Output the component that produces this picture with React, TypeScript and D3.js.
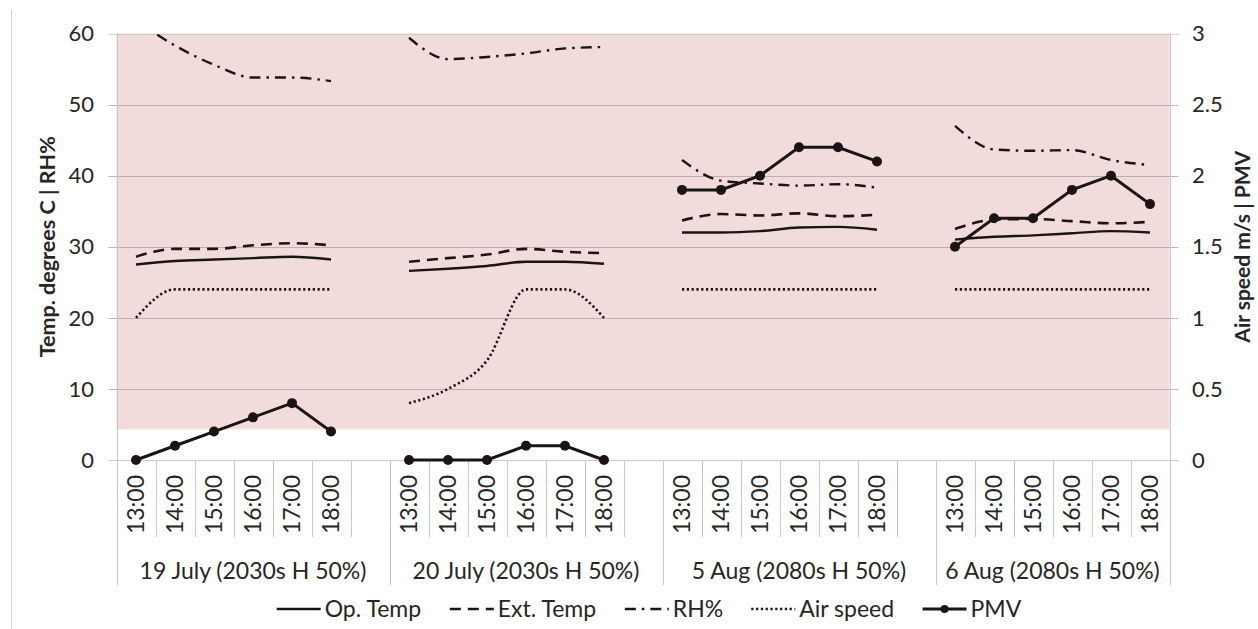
import React, { useEffect, useRef } from "react"
import * as d3 from "d3"

// categories
const groups = ["19 July (2030s H 50%)", "20 July (2030s H 50%)", "5 Aug (2080s H 50%)", "6 Aug (2080s H 50%)"]
const times = ["13:00", "14:00", "15:00", "16:00", "17:00", "18:00"]

// series (one row per day), left axis
const opTemp = [
	[27.5, 28.0, 28.2, 28.4, 28.6, 28.2],
	[26.6, 26.9, 27.3, 27.9, 27.9, 27.6],
	[32.0, 32.0, 32.2, 32.7, 32.8, 32.4],
	[31.0, 31.4, 31.6, 31.9, 32.2, 32.0],
]
const extTemp = [
	[28.6, 29.7, 29.7, 30.2, 30.5, 30.2],
	[27.9, 28.4, 28.9, 29.7, 29.3, 29.1],
	[33.7, 34.6, 34.4, 34.7, 34.3, 34.5],
	[32.5, 33.8, 33.9, 33.6, 33.3, 33.5],
]
const rh = [
	[61.8, 58.3, 55.6, 53.8, 53.8, 53.3],
	[59.4, 56.4, 56.7, 57.2, 57.9, 58.1],
	[42.2, 39.3, 38.9, 38.6, 38.8, 38.3],
	[47.0, 43.7, 43.5, 43.6, 42.2, 41.5],
]
// right axis
const airSpeed = [
	[1.0, 1.2, 1.2, 1.2, 1.2, 1.2],
	[0.4, 0.5, 0.7, 1.2, 1.2, 1.0],
	[1.2, 1.2, 1.2, 1.2, 1.2, 1.2],
	[1.2, 1.2, 1.2, 1.2, 1.2, 1.2],
]
const pmv = [
	[0, 0.1, 0.2, 0.3, 0.4, 0.2],
	[0, 0, 0, 0.1, 0.1, 0],
	[1.9, 1.9, 2.0, 2.2, 2.2, 2.1],
	[1.5, 1.7, 1.7, 1.9, 2.0, 1.8],
]

const leftTicks = [0, 10, 20, 30, 40, 50, 60]
const rightTicks = [0, 0.5, 1, 1.5, 2, 2.5, 3]
const shadeRange = [4.3, 60] // pink band, left axis units

const W = 1258
const H = 629
const M = { left: 116.5, right: 1169.5, top: 33.5, bottom: 460 }
const FONT = "Lato, 'Open Sans', sans-serif"
const FS = 22
const FS_CAT = 23
const INK = "#1c1414"
const TXT = "#262626"

export default function App() {
	const svgRef = useRef<SVGSVGElement>(null)

	useEffect(() => {
		const svg = d3.select(svgRef.current)
		svg.selectAll("*").remove()

		const slots = d3.range(groups.length * 7 - 1)
		const x = d3.scaleBand<number>().domain(slots).range([M.left, M.right])
		const bw = x.bandwidth()
		const yL = d3.scaleLinear().domain([0, 60]).range([M.bottom, M.top])
		const yR = d3.scaleLinear().domain([0, 3]).range([M.bottom, M.top])
		const cx = (g: number, t: number) => (x(g * 7 + t) as number) + bw / 2

		// outer border piece
		svg.append("line")
			.attr("x1", 11.5).attr("x2", 11.5).attr("y1", 10).attr("y2", H)
			.attr("stroke", "#d0d0d0")

		svg.append("rect")
			.attr("x", M.left)
			.attr("width", M.right - M.left)
			.attr("y", yL(shadeRange[1]))
			.attr("height", yL(shadeRange[0]) - yL(shadeRange[1]))
			.attr("fill", "#f2dcdb")

		// horizontal grid + ticks
		svg.append("g")
			.selectAll("line")
			.data(leftTicks)
			.join("line")
			.attr("x1", M.left - 8)
			.attr("x2", M.right + 9)
			.attr("y1", (d) => Math.round(yL(d)) + 0.5)
			.attr("y2", (d) => Math.round(yL(d)) + 0.5)
			.attr("stroke", (d) => (d === 0 ? "#bfbfbf" : "#b5a6a6"))
			.attr("stroke-opacity", (d) => (d === 60 ? 0.5 : 0.85))

		// vertical axis lines and category separators
		const seps = d3.range(0, slots.length + 1)
		svg.append("g")
			.selectAll("line")
			.data(seps)
			.join("line")
			.attr("x1", (i) => Math.round(M.left + i * bw) + 0.5)
			.attr("x2", (i) => Math.round(M.left + i * bw) + 0.5)
			.attr("y1", (i) => (i === 0 || i === slots.length ? M.top : M.bottom))
			.attr("y2", (i) => (i % 7 === 0 || i === slots.length ? 585 : 537))
			.attr("stroke", "#c8c8c8")

		// left ticks labels
		svg.append("g")
			.selectAll("text")
			.data(leftTicks)
			.join("text")
			.attr("x", 94)
			.attr("y", (d) => yL(d))
			.attr("dy", "0.35em")
			.attr("text-anchor", "end")
			.attr("font-family", FONT)
			.attr("font-size", FS)
			.attr("fill", TXT)
			.text((d) => d)

		svg.append("g")
			.selectAll("text")
			.data(rightTicks)
			.join("text")
			.attr("x", 1192)
			.attr("y", (d) => yR(d))
			.attr("dy", "0.35em")
			.attr("font-family", FONT)
			.attr("font-size", FS)
			.attr("fill", TXT)
			.text((d) => d)

		// axis titles
		const midY = (M.top + M.bottom) / 2
		svg.append("text")
			.attr("transform", `translate(47,${midY}) rotate(-90)`)
			.attr("dy", "0.35em")
			.attr("text-anchor", "middle")
			.attr("font-family", FONT)
			.attr("font-weight", "bold")
			.attr("font-size", 21.5)
			.attr("fill", TXT)
			.text("Temp. degrees C | RH%")
		svg.append("text")
			.attr("transform", `translate(1243,${midY}) rotate(-90)`)
			.attr("dy", "0.35em")
			.attr("text-anchor", "middle")
			.attr("font-family", FONT)
			.attr("font-weight", "bold")
			.attr("font-size", 21)
			.attr("fill", TXT)
			.text("Air speed m/s | PMV")

		// time labels
		const cells = groups.flatMap((_, g) => times.map((t, i) => ({ g, i, t })))
		svg.append("g")
			.selectAll("text")
			.data(cells)
			.join("text")
			.attr("transform", (d) => `translate(${cx(d.g, d.i)},475) rotate(-90)`)
			.attr("dy", "0.35em")
			.attr("text-anchor", "end")
			.attr("font-family", FONT)
			.attr("font-size", FS_CAT)
			.attr("fill", TXT)
			.text((d) => d.t)

		// group labels
		svg.append("g")
			.selectAll("text")
			.data(groups)
			.join("text")
			.attr("x", (_, g) => {
				const a = M.left + g * 7 * bw
				const b = Math.min(M.left + (g * 7 + 7) * bw, M.right)
				return (a + b) / 2
			})
			.attr("y", 571)
			.attr("dy", "0.35em")
			.attr("text-anchor", "middle")
			.attr("font-family", FONT)
			.attr("font-size", FS_CAT)
			.attr("fill", TXT)
			.text((d) => d)

		// series
		svg.append("clipPath")
			.attr("id", "plotClip")
			.append("rect")
			.attr("x", M.left)
			.attr("y", M.top)
			.attr("width", M.right - M.left)
			.attr("height", M.bottom - M.top + 10)

		const series = [
			{ key: "Op. Temp", data: opTemp, y: yL, dash: null, width: 2.4, smooth: true },
			{ key: "Ext. Temp", data: extTemp, y: yL, dash: "11,7", width: 2.6, smooth: true },
			{ key: "RH%", data: rh, y: yL, dash: "11,6,2.5,6", width: 2.4, smooth: true },
			{ key: "Air speed", data: airSpeed, y: yR, dash: "2.2,2.6", width: 2.6, smooth: true },
			{ key: "PMV", data: pmv, y: yR, dash: null, width: 3, smooth: false },
		]

		const plot = svg.append("g").attr("clip-path", "url(#plotClip)")
		series.forEach((s) => {
			s.data.forEach((row, g) => {
				const line = d3
					.line<number>()
					.x((_, i) => cx(g, i))
					.y((v) => s.y(v))
					.curve(s.smooth ? d3.curveMonotoneX : d3.curveLinear)
				plot.append("path")
					.attr("d", line(row))
					.attr("fill", "none")
					.attr("stroke", INK)
					.attr("stroke-width", s.width)
					.attr("stroke-dasharray", s.dash)
			})
		})
		pmv.forEach((row, g) => {
			svg.append("g")
				.selectAll("circle")
				.data(row)
				.join("circle")
				.attr("cx", (_, i) => cx(g, i))
				.attr("cy", (v) => yR(v))
				.attr("r", 5)
				.attr("fill", INK)
		})

		// legend
		const ctx = document.createElement("canvas").getContext("2d")
		if (ctx) ctx.font = `${FS_CAT}px Lato`
		const symLen = 44
		const textGap = 4
		const itemGap = 28
		const widths = series.map((s) => (ctx ? ctx.measureText(s.key).width : s.key.length * 11))
		const total = d3.sum(widths) + series.length * (symLen + textGap) + (series.length - 1) * itemGap
		let lx = 649 - total / 2
		const ly = 609
		const legend = svg.append("g")
		series.forEach((s, k) => {
			legend.append("line")
				.attr("x1", lx).attr("x2", lx + symLen)
				.attr("y1", ly).attr("y2", ly)
				.attr("stroke", INK)
				.attr("stroke-width", s.width)
				.attr("stroke-dasharray", s.dash)
			if (s.key === "PMV") {
				legend.append("circle").attr("cx", lx + symLen / 2).attr("cy", ly).attr("r", 4).attr("fill", INK)
			}
			legend.append("text")
				.attr("x", lx + symLen + textGap)
				.attr("y", ly)
				.attr("dy", "0.35em")
				.attr("font-family", FONT)
				.attr("font-size", FS_CAT)
				.attr("fill", TXT)
				.text(s.key)
			lx += symLen + textGap + widths[k] + itemGap
		})
	}, [])

	return (
		<div style={{ position: "fixed", left: 0, top: 0 }}>
			<svg ref={svgRef} width={W} height={H} style={{ display: "block", background: "#fff" }} />
		</div>
	)
}
